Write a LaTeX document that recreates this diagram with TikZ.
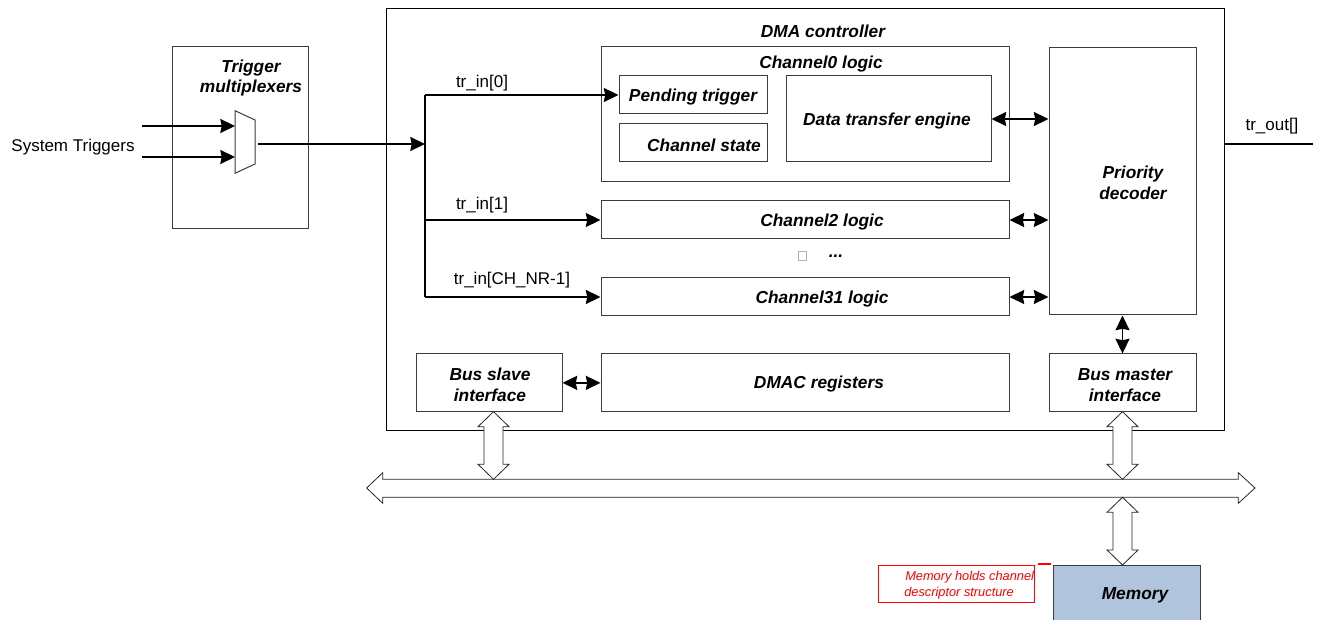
\documentclass[tikz,border=0pt]{standalone}
\usepackage{fontspec}
\setmainfont{Liberation Sans}
\usetikzlibrary{arrows.meta,fit,calc}
\definecolor{memblue}{RGB}{176,196,222}
\definecolor{boxgray}{RGB}{60,60,60}
\newcommand\vhollow[3]{%
  \draw[hollow] (#1,#2) -- (#1+15.5,#2+15) -- (#1+9.5,#2+15) -- (#1+9.5,#3-15) -- (#1+15.5,#3-15) -- (#1,#3)
     -- (#1-15.5,#3-15) -- (#1-9.5,#3-15) -- (#1-9.5,#2+15) -- (#1-15.5,#2+15) -- cycle;}
\begin{document}
\begin{tikzpicture}[x=0.75pt,y=-0.75pt,
  font=\fontsize{12.75}{15}\selectfont,
  box/.style={draw=boxgray, line width=0.75pt, inner sep=0pt},
  ttl/.style={font=\fontsize{13}{15.5}\selectfont\bfseries\itshape, align=center, inner sep=0pt},
  lbl/.style={inner sep=0pt},
  tip/.tip={Stealth[length=11pt,width=10.5pt,inset=1pt]},
  conn/.style={line width=1.2pt, -tip},
  bconn/.style={line width=1.2pt, tip-tip},
  hollow/.style={draw=black!85, fill=white, line width=0.6pt, line join=miter}]

\useasboundingbox (0,0) rectangle (1318,620);

% DMA controller
\node[box, draw=black, fit={(386,9)(1224,430)}] (dma) {};
\node[ttl] (dmat) at (823,31) {DMA controller};

% Trigger multiplexers
\node[box, fit={(172,47)(308,229)}] (tmux) {};
\node[ttl] (tmuxt) at (251,78) {Trigger\\multiplexers};
\draw[box] (235,110.7) -- (255,120) -- (255,164) -- (235,173.3) -- cycle;
\coordinate (mi1) at (235,126);
\coordinate (mi2) at (235,157);
\coordinate (st1) at (142,126);
\coordinate (st2) at (142,157);
\draw[conn] (st1) -- (mi1);
\draw[conn] (st2) -- (mi2);
\node[lbl] (systr) at (73,147) {System Triggers};
\coordinate (muxout) at (258,144);
\coordinate (split) at (425,144);
\draw[conn] (muxout) -- (split);

% channel boxes
\node[box, fit={(601,47)(1009,182)}] (ch0) {};
\node[ttl] (ch0t) at (821,64) {Channel0 logic};
\node[box, fit={(619,76)(767,114)}] (pend) {};
\node[ttl] (pendt) at (693,97) {Pending trigger};
\node[box, fit={(619,124)(767,162)}] (cst) {};
\node[ttl] (cstt) at (704,145) {Channel state};
\node[box, fit={(786,76)(991,162)}] (dte) {};
\node[ttl] (dtet) at (887,121) {Data transfer engine};
\node[box, fit={(601,201)(1009,239)}] (ch2) {};
\node[ttl] (ch2t) at (822,222) {Channel2 logic};
\node[box, fit={(601,278)(1009,316)}] (ch31) {};
\node[ttl] (ch31t) at (822,299) {Channel31 logic};
\draw[black!30, line width=0.4pt] (798.5,251) rectangle (806,260);
\node[ttl] (dots) at (836,256) {...};

% priority decoder and interfaces
\node[box, fit={(1049,48)(1196,315)}] (pd) {};
\node[ttl] (pdt) at (1133,183) {Priority\\decoder};
\node[box, fit={(1049,354)(1196,411.7)}] (bmi) {};
\node[ttl] (bmit) at (1125,385) {Bus master\\interface};
\node[box, fit={(416,354)(562,411.7)}] (slave) {};
\node[ttl] (slavet) at (490,385) {Bus slave\\interface};
\node[box, fit={(601,354)(1009,411.7)}] (regs) {};
\node[ttl] (regst) at (819,384) {DMAC registers};

% trigger distribution
\coordinate (sTop) at (425,95);
\coordinate (s1) at (425,220);
\coordinate (sBot) at (425,297);
\draw[line width=1.2pt] (sTop) -- (sBot);
\draw[conn] (sTop) -- (pend.west);
\draw[conn] (s1) -- (s1 -| ch2.west);
\draw[conn] (sBot) -- (sBot -| ch31.west);
\node[lbl] (l0) at (482,83) {tr\_in[0]};
\node[lbl] (l1) at (482,205) {tr\_in[1]};
\node[lbl] (l2) at (512,280) {tr\_in[CH\_NR-1]};

% internal bidirectional links
\draw[bconn] (dte.east) -- (dte.east -| pd.west);
\draw[bconn] (ch2.east) -- (ch2.east -| pd.west);
\draw[bconn] (ch31.east) -- (ch31.east -| pd.west);
\draw[bconn] (pd.south) -- (bmi.north);
\draw[bconn] (slave.east) -- (regs.west);

% tr_out
\coordinate (trend) at (1313,144);
\draw[line width=1pt] (trend -| dma.east) -- (trend);
\node[lbl] (trout) at (1272,126) {tr\_out[]};

% system bus
\draw[hollow] (366.7,488) -- (382.7,472.7) -- (382.7,479.3) -- (1238.3,479.3) -- (1238.3,472.7) -- (1255,488)
  -- (1238.3,503.3) -- (1238.3,497.3) -- (382.7,497.3) -- (382.7,503.3) -- cycle;
\vhollow{493.5}{411.7}{479.3}
\vhollow{1122.5}{411.7}{479.3}
\vhollow{1122.5}{497.3}{565}

% memory
\node[box, fill=memblue, fit={(1053,565)(1200,640)}] (mem) {};
\node[ttl] (memt) at (1135,595) {Memory};

% note
\node[draw=red, line width=0.6pt, inner sep=0pt, fit={(878,565)(1034,602.7)}] (note) {};
\node[anchor=west, text=red, inner sep=0pt, font=\fontsize{9.6}{11}\selectfont\itshape] (n1) at (905,577) {Memory holds channel};
\node[anchor=west, text=red, inner sep=0pt, font=\fontsize{9.6}{11}\selectfont\itshape] (n2) at (904,593) {descriptor structure};
\draw[red, line width=2.2pt] (1038,564) -- (1051,564);
\end{tikzpicture}
\end{document}
